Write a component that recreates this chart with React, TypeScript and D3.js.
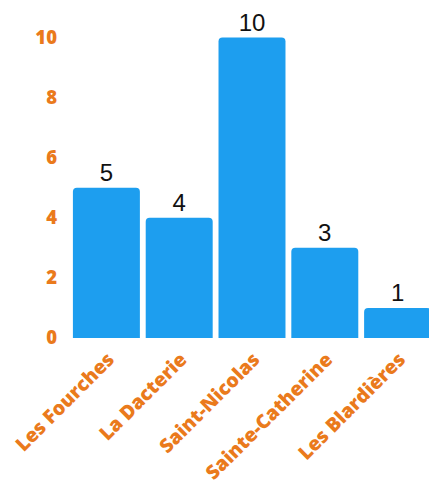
import React from "react";
import * as d3 from "d3";

const categories = ["Les Fourches", "La Dacterie", "Saint-Nicolas", "Sainte-Catherine", "Les Blardières"];
const values = [5, 4, 10, 3, 1];
const yTicks = [0, 2, 4, 6, 8, 10];

const W = 429;
const H = 481;
const ORANGE = "#EA7A1C";
const BLUE = "#1D9EEF";

export default function App() {
  const x = d3.scaleBand<string>().domain(categories).range([70, 434]).paddingInner(0.08).paddingOuter(0.04);
  const y = d3.scaleLinear().domain([0, 10]).range([338, 37.5]);
  const bw = x.bandwidth();
  return (
    <svg width={W} height={H} style={{ position: "absolute", left: 0, top: 0 }}>
      {yTicks.map((t) => (
        <text key={t} x={57} y={y(t)} dy="0.34em" textAnchor="end" fill={ORANGE}
          fontFamily="'Open Sans', sans-serif" fontWeight={800} fontSize={18.5}>{t}</text>
      ))}
      {categories.map((c, i) => {
        const x0 = x(c)!;
        const yt = y(values[i]);
        const h = y(0) - yt;
        const r = 4;
        const path = `M${x0},${y(0)} V${yt + r} Q${x0},${yt} ${x0 + r},${yt} H${x0 + bw - r} Q${x0 + bw},${yt} ${x0 + bw},${yt + r} V${y(0)} Z`;
        return (
          <g key={c}>
            <path d={h > 0 ? path : ""} fill={BLUE} />
            <text x={x0 + bw / 2} y={yt - 7} textAnchor="middle" fill="#111"
              fontFamily="'Liberation Sans', Arial, sans-serif" fontSize={24}>{values[i]}</text>
            <text transform={`translate(${x0 + bw / 2 - 1},${351}) rotate(-45)`} textAnchor="end" dy="0.72em"
              fill={ORANGE} fontFamily="'Open Sans', sans-serif" fontWeight={800} fontSize={19.5}>{c}</text>
          </g>
        );
      })}
    </svg>
  );
}
